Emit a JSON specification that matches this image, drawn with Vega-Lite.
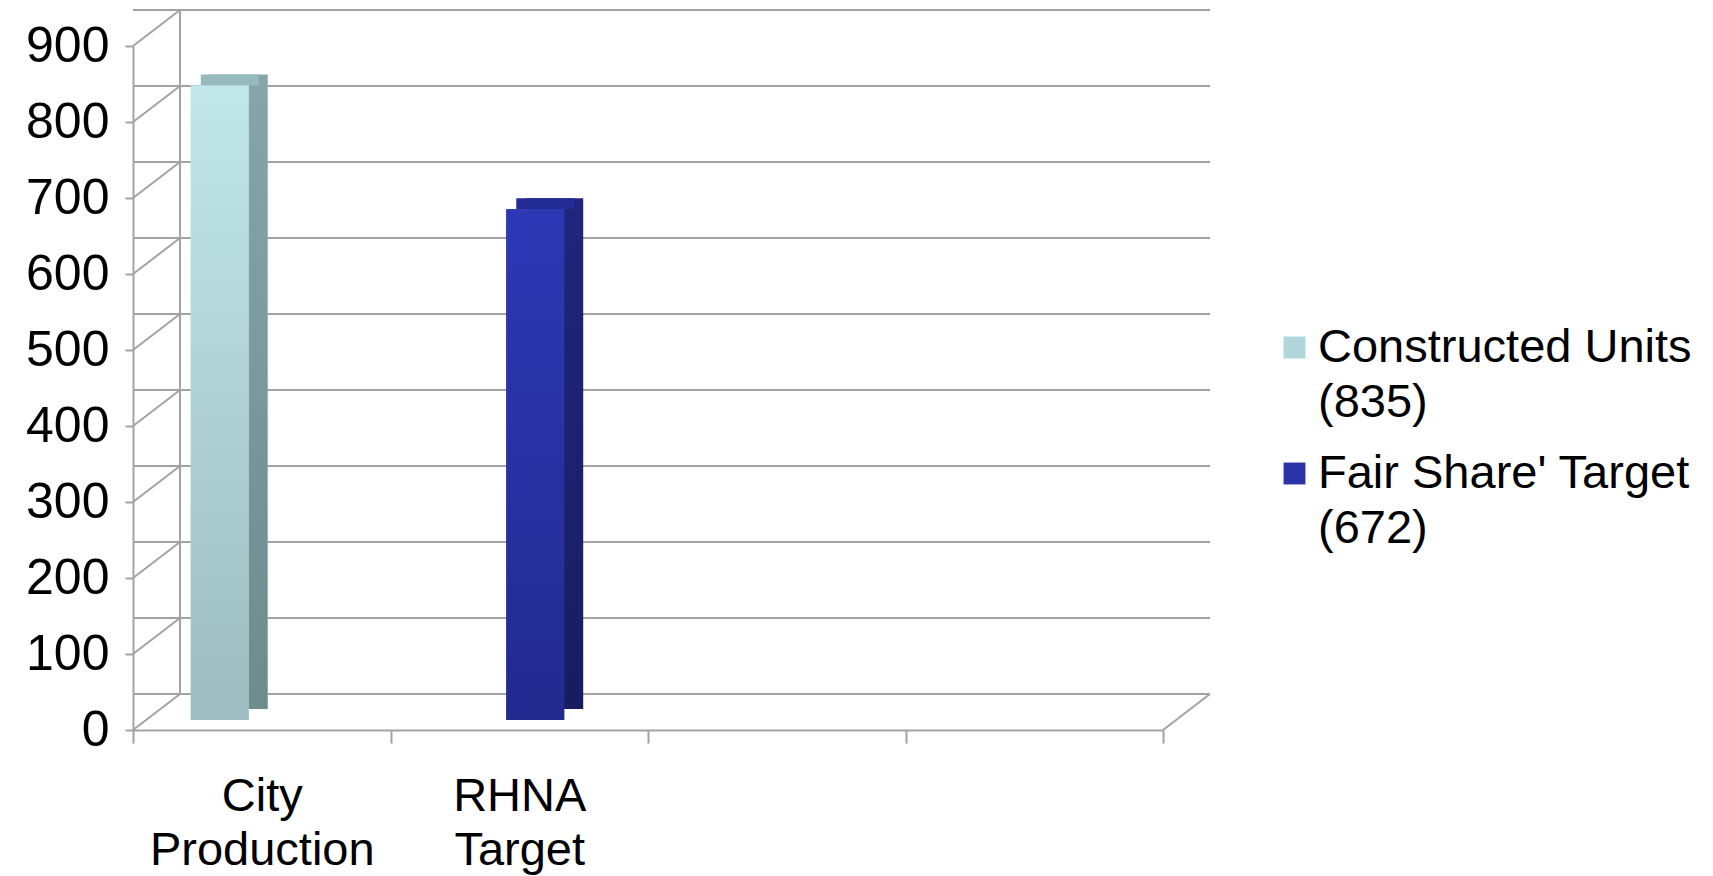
{
  "$schema": "https://vega.github.io/schema/vega-lite/v6.json",
  "width": 1030,
  "height": 684,
  "autosize": {"type": "none"},
  "padding": {"left": 133, "top": 46, "right": 550, "bottom": 146},
  "background": "white",
  "config": {
    "view": {"stroke": null},
    "font": "Liberation Sans",
    "style": {"guide-label": {"lineHeight": 55}}
  },
  "datasets": {
    "bars": [
      {"category": "City Production", "series": "Constructed Units (835)", "units": 835},
      {"category": "RHNA Target", "series": "Fair Share' Target (672)", "units": 672}
    ],
    "grid": [
      {"v": 0}, {"v": 100}, {"v": 200}, {"v": 300}, {"v": 400},
      {"v": 500}, {"v": 600}, {"v": 700}, {"v": 800}, {"v": 900}
    ]
  },
  "layer": [
    {
      "data": {"name": "grid"},
      "mark": {"type": "rule", "xOffset": 47, "yOffset": -36, "color": "#a3a3a3", "strokeWidth": 2},
      "encoding": {
        "y": {
          "field": "v", "type": "quantitative",
          "scale": {"domain": [0, 900], "nice": false},
          "axis": {
            "values": [0, 100, 200, 300, 400, 500, 600, 700, 800, 900],
            "grid": false, "title": null,
            "domainColor": "#a3a3a3", "domainWidth": 2,
            "tickColor": "#a3a3a3", "tickWidth": 2, "tickSize": 8,
            "labelFontSize": 50, "labelColor": "#000000", "labelPadding": 16
          }
        }
      }
    },
    {
      "data": {"name": "grid"},
      "mark": {"type": "rule", "x2Offset": 47, "y2Offset": -36, "color": "#a3a3a3", "strokeWidth": 2},
      "encoding": {
        "x": {"datum": "City Production", "type": "nominal", "bandPosition": 0},
        "x2": {"datum": "City Production", "bandPosition": 0},
        "y": {"field": "v", "type": "quantitative"},
        "y2": {"field": "v"}
      }
    },
    {
      "data": {"name": "grid"},
      "transform": [{"filter": "datum.v == 0"}],
      "mark": {"type": "rule", "xOffset": 47, "x2Offset": 47, "yOffset": -36, "y2Offset": -36, "color": "#a3a3a3", "strokeWidth": 2},
      "encoding": {
        "x": {"datum": "City Production", "type": "nominal", "bandPosition": 0},
        "y": {"datum": 0, "type": "quantitative"},
        "y2": {"datum": 900}
      }
    },
    {
      "data": {"name": "grid"},
      "transform": [{"filter": "datum.v == 0"}],
      "mark": {"type": "rule", "x2Offset": 47, "y2Offset": -36, "color": "#a3a3a3", "strokeWidth": 2},
      "encoding": {
        "x": {"datum": "  ", "type": "nominal", "bandPosition": 1},
        "x2": {"datum": "  ", "bandPosition": 1},
        "y": {"field": "v", "type": "quantitative"},
        "y2": {"field": "v"}
      }
    },
    {
      "data": {"name": "bars"},
      "transform": [{"filter": "datum.series == 'Constructed Units (835)'"}],
      "mark": {
        "type": "bar", "xOffset": -23, "yOffset": -21, "width": {"band": 0.225},
        "fill": {"gradient": "linear", "x1": 0, "y1": 0, "x2": 0, "y2": 1,
          "stops": [{"offset": 0, "color": "#86a6a9"}, {"offset": 1, "color": "#6e8b8e"}]}
      },
      "encoding": {
        "x": {"field": "category", "type": "nominal"},
        "y": {"field": "units", "type": "quantitative"}
      }
    },
    {
      "data": {"name": "bars"},
      "transform": [{"filter": "datum.series == \"Fair Share' Target (672)\""}],
      "mark": {
        "type": "bar", "xOffset": 35, "yOffset": -21, "width": {"band": 0.225},
        "fill": {"gradient": "linear", "x1": 0, "y1": 0, "x2": 0, "y2": 1,
          "stops": [{"offset": 0, "color": "#1f267c"}, {"offset": 1, "color": "#181d60"}]}
      },
      "encoding": {
        "x": {"field": "category", "type": "nominal"},
        "y": {"field": "units", "type": "quantitative"}
      }
    },
    {
      "data": {"name": "bars"},
      "transform": [{"filter": "datum.series == 'Constructed Units (835)'"}],
      "mark": {"type": "bar", "xOffset": -32, "yOffset": -21, "y2Offset": -10, "width": {"band": 0.225}, "fill": "#95b9bc"},
      "encoding": {
        "x": {"field": "category", "type": "nominal"},
        "y": {"field": "units", "type": "quantitative"},
        "y2": {"field": "units"}
      }
    },
    {
      "data": {"name": "bars"},
      "transform": [{"filter": "datum.series == \"Fair Share' Target (672)\""}],
      "mark": {"type": "bar", "xOffset": 26, "yOffset": -21, "y2Offset": -10, "width": {"band": 0.225}, "fill": "#232b95"},
      "encoding": {
        "x": {"field": "category", "type": "nominal"},
        "y": {"field": "units", "type": "quantitative"},
        "y2": {"field": "units"}
      }
    },
    {
      "data": {"name": "bars"},
      "transform": [{"filter": "datum.series == 'Constructed Units (835)'"}],
      "mark": {"type": "bar", "xOffset": -42, "yOffset": -10, "width": {"band": 0.225}},
      "encoding": {
        "x": {
          "field": "category", "type": "nominal",
          "scale": {"domain": ["City Production", "RHNA Target", " ", "  "], "paddingInner": 0, "paddingOuter": 0},
          "axis": {
            "title": null, "labelAngle": 0, "labelAlign": "center", "labelLimit": 600,
            "domainColor": "#a3a3a3", "domainWidth": 2,
            "tickColor": "#a3a3a3", "tickWidth": 2, "tickSize": 13, "tickBand": "extent",
            "labelFontSize": 47, "labelColor": "#000000", "labelPadding": 53,
            "labelLineHeight": 54,
            "labelExpr": "split(datum.label, ' ')"
          }
        },
        "y": {"field": "units", "type": "quantitative"},
        "color": {
          "field": "series", "type": "nominal",
          "scale": {"domain": ["Constructed Units (835)", "Fair Share' Target (672)"], "range": ["#b0d6db", "#2a33a8"]},
          "legend": {
            "title": null, "orient": "none", "legendX": 1138, "legendY": 278,
            "labelFontSize": 47, "labelColor": "#000000", "labelLimit": 800,
            "symbolType": "square", "symbolSize": 480, "symbolStrokeWidth": 0,
            "symbolOpacity": 1, "rowPadding": 23, "labelOffset": 0,
            "labelExpr": "[slice(datum.label, 0, indexof(datum.label, ' (')), slice(datum.label, indexof(datum.label, ' (') + 1)]"
          }
        }
      }
    },
    {
      "data": {"name": "bars"},
      "transform": [{"filter": "datum.series == \"Fair Share' Target (672)\""}],
      "mark": {"type": "bar", "xOffset": 16, "yOffset": -10, "width": {"band": 0.225}},
      "encoding": {
        "x": {"field": "category", "type": "nominal"},
        "y": {"field": "units", "type": "quantitative"},
        "color": {"field": "series", "type": "nominal"}
      }
    },
    {
      "data": {"name": "bars"},
      "transform": [{"filter": "datum.series == 'Constructed Units (835)'"}],
      "mark": {
        "type": "bar", "xOffset": -42, "yOffset": -10, "width": {"band": 0.225},
        "fill": {"gradient": "linear", "x1": 0, "y1": 0, "x2": 0, "y2": 1,
          "stops": [{"offset": 0, "color": "#c0e7ea"}, {"offset": 1, "color": "#9dbcc1"}]}
      },
      "encoding": {
        "x": {"field": "category", "type": "nominal"},
        "y": {"field": "units", "type": "quantitative"}
      }
    },
    {
      "data": {"name": "bars"},
      "transform": [{"filter": "datum.series == \"Fair Share' Target (672)\""}],
      "mark": {
        "type": "bar", "xOffset": 16, "yOffset": -10, "width": {"band": 0.225},
        "fill": {"gradient": "linear", "x1": 0, "y1": 0, "x2": 0, "y2": 1,
          "stops": [{"offset": 0, "color": "#2d38b6"}, {"offset": 1, "color": "#222a8e"}]}
      },
      "encoding": {
        "x": {"field": "category", "type": "nominal"},
        "y": {"field": "units", "type": "quantitative"}
      }
    }
  ]
}
